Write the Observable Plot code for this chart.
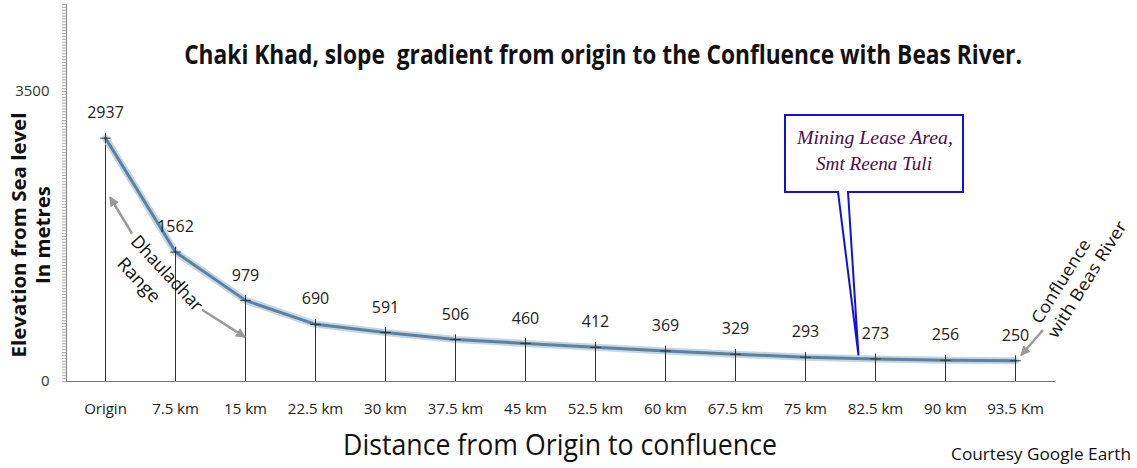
<!DOCTYPE html>
<html><head><meta charset="utf-8">
<script src="https://cdn.jsdelivr.net/npm/d3@7"></script>
<script src="https://cdn.jsdelivr.net/npm/@observablehq/plot@0.6"></script>
<style>
body{margin:0;background:#fff;}
#chart{width:1137px;height:468px;}
</style></head><body><div id="chart"></div>
<script>
const distances = ["Origin","7.5 km","15 km","22.5 km","30 km","37.5 km","45 km","52.5 km","60 km","67.5 km","75 km","82.5 km","90 km","93.5 Km"];
const elevations = [2937,1562,979,690,591,506,460,412,369,329,293,273,256,250];
const yTickLabels = [0, 3500];
const titleText = "Chaki Khad, slope \u00a0gradient from origin to the Confluence with Beas River.";
const yTitleLines = ["Elevation from Sea level", "In metres"];
const xTitleText = "Distance from Origin to confluence";
const creditText = "Courtesy Google Earth";
const calloutLines = ["Mining Lease Area,", "Smt Reena Tuli"];
const rangeLines = ["Dhauladhar", "Range"];
const confluenceLines = ["Confluence", "with Beas River"];

const FONT = "'Open Sans', sans-serif";
const data = distances.map((d, i) => ({d, e: elevations[i]}));

const plot = Plot.plot({
  width: 1137, height: 468,
  marginLeft: 66, marginRight: 83, marginTop: 4, marginBottom: 87,
  style: {background: "#fff", fontFamily: FONT, color: "#222"},
  x: {type: "point", domain: distances, padding: 0.5, label: null},
  y: {domain: [0, 4550], label: null},
  marks: [
    Plot.axisY({ticks: d3.range(0, 4551, 35), tickSize: 4, tickFormat: () => "", stroke: "#999", strokeWidth: 0.8}),
    Plot.axisY({ticks: yTickLabels, tickSize: 0, tickPadding: 17, fontSize: 15, fill: "#333", label: null, tickFormat: d => String(d)}),
    Plot.frame({anchor: "left", stroke: "#888"}),
    Plot.frame({anchor: "bottom", stroke: "#777"}),
    Plot.axisX({tickSize: 0, tickPadding: 22, fontSize: 15, fill: "#222", label: null}),
    Plot.ruleX(data, {x: "d", y1: 0, y2: "e", stroke: "#333", strokeWidth: 1}),
    Plot.line(data, {x: "d", y: "e", stroke: "#c4d6e4", strokeWidth: 7}),
    Plot.line(data, {x: "d", y: "e", stroke: "#5b82a3", strokeWidth: 3}),
    Plot.dot(data, {x: "d", y: "e", symbol: "plus", r: 3.5, stroke: "#333", strokeWidth: 1}),
    Plot.text(data, {x: "d", y: "e", text: d => String(d.e), dy: -25, fontSize: 16, fill: "#222"})
  ]
});
document.getElementById("chart").appendChild(plot);

const svg = d3.select(plot);
const X = plot.scale("x"), Y = plot.scale("y");
const xp = i => X.apply(distances[i]);
const yp = v => Y.apply(v);
const step = xp(1) - xp(0);

function txt(t, x, y, o = {}) {
  const g = svg.append("g");
  const el = g.append("text").text(t)
    .attr("x", 0).attr("y", 0)
    .attr("text-anchor", "middle").attr("dominant-baseline", "middle")
    .style("font-family", o.font || FONT)
    .style("font-size", (o.size || 16) + "px")
    .style("font-weight", o.weight || "normal")
    .style("font-style", o.style || "normal")
    .attr("fill", o.fill || "#111");
  let sx = 1;
  if (o.len) {
    const w = el.node().getComputedTextLength();
    if (w > 0) sx = o.len / w;
  }
  g.attr("transform", `translate(${x},${y}) rotate(${o.rot || 0}) scale(${sx},1)`);
  return el;
}

// arrow marker
svg.append("defs").append("marker").attr("id", "ah")
  .attr("viewBox", "0 0 10 10").attr("refX", 9).attr("refY", 5)
  .attr("markerWidth", 4).attr("markerHeight", 4).attr("orient", "auto")
  .append("path").attr("d", "M0,0L10,5L0,10z").attr("fill", "#9a9a9a");
function arrow(x1, y1, x2, y2) {
  svg.append("line").attr("x1", x1).attr("y1", y1).attr("x2", x2).attr("y2", y2)
    .attr("stroke", "#9a9a9a").attr("stroke-width", 2.5).attr("marker-end", "url(#ah)");
}

// Titles
txt(titleText, 603, 57, {size: 27, weight: "bold", len: 838});
txt(yTitleLines[0], 21, 235, {size: 19, weight: "bold", len: 245, rot: -90});
txt(yTitleLines[1], 45, 235, {size: 19, weight: "bold", len: 98, rot: -90});
txt(xTitleText, 560, 447, {size: 30, len: 434});
txt(creditText, 1041, 455, {size: 17, len: 180});

// Dhauladhar annotation
const x0 = xp(0);
arrow(x0 + 27, yp(1780), x0 + 5, yp(2220));
arrow(x0 + 97, yp(860), x0 + 140, yp(530));
txt(rangeLines[0], x0 + 61, 274, {size: 18, rot: 47, len: 96});
txt(rangeLines[1], x0 + 33, 281, {size: 18, rot: 47, len: 54});

// Confluence annotation
const xl = xp(13);
arrow(xl + 28, 330, xl + 6, yp(250) - 5);
txt(confluenceLines[0], xl + 47, 282, {size: 17, rot: -58, len: 96});
txt(confluenceLines[1], xl + 73, 280, {size: 17, rot: -58, len: 134});

// Callout
const tipX = xp(10) + step * 0.75, tipY = yp(273) - 3;
const bx1 = 785, bx2 = 963, by1 = 115, by2 = 192;
svg.append("path")
  .attr("d", `M${bx1},${by1}H${bx2}V${by2}H848L${tipX + 1},${tipY}L838,${by2}H${bx1}Z`)
  .attr("fill", "#fff").attr("stroke", "#1010e0").attr("stroke-width", 2);
const SERIF = "'Liberation Serif', 'DejaVu Serif', serif";
txt(calloutLines[0], 875, 140, {size: 18, style: "italic", fill: "#4a0d4a", font: SERIF, len: 156});
txt(calloutLines[1], 874, 166, {size: 18, style: "italic", fill: "#4a0d4a", font: SERIF, len: 116});
</script>
</body></html>
